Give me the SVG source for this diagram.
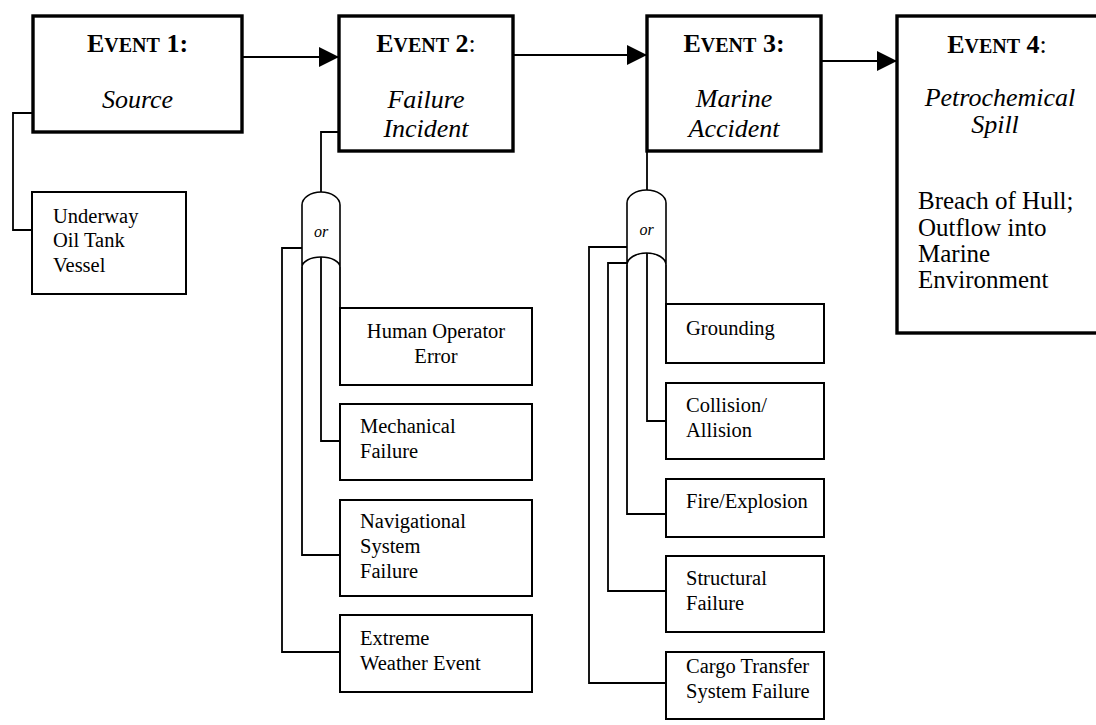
<svg xmlns="http://www.w3.org/2000/svg" width="1096" height="725" viewBox="0 0 1096 725">
<style>
.main{fill:#fff;stroke:#000;stroke-width:3.4}
.child{fill:#fff;stroke:#000;stroke-width:2}
.gate{fill:#fff;stroke:#000;stroke-width:1.6}
.conn{fill:none;stroke:#000;stroke-width:1.8}
text{font-family:"Liberation Serif","Times New Roman",serif;fill:#000}
.hd{font-weight:bold;font-size:26px;text-anchor:middle}
.hd .sc{font-size:20px}
.it{font-style:italic;font-size:26px;text-anchor:middle}
.ct{font-size:20.5px}
.big{font-size:25px}
.or{font-style:italic;font-size:16px;text-anchor:middle}
</style>
<defs>
<marker id="arr" markerUnits="userSpaceOnUse" markerWidth="20" markerHeight="20" refX="20" refY="10" orient="auto">
<path d="M0,0 L20,10 L0,20 Z" fill="#000"/>
</marker>
</defs>
<g id="connectors">
<line class="conn" x1="242" y1="57" x2="339" y2="57" marker-end="url(#arr)"/>
<line class="conn" x1="513" y1="55" x2="647" y2="55" marker-end="url(#arr)"/>
<line class="conn" x1="821" y1="61" x2="897" y2="61" marker-end="url(#arr)"/>
<polyline class="conn" points="33,113 13,113 13,230 32,230"/>
<polyline class="conn" points="339,132 321,132 321,193"/>
<polyline class="conn" points="340,267 340,308"/>
<polyline class="conn" points="321,257 321,441 340,441"/>
<polyline class="conn" points="302,267 302,555 340,555"/>
<polyline class="conn" points="302,248 282,248 282,652 340,652"/>
<polyline class="conn" points="647,151 647,191"/>
<polyline class="conn" points="666,265 666,304"/>
<polyline class="conn" points="647,253 647,421 666,421"/>
<polyline class="conn" points="627,265 627,514 666,514"/>
<polyline class="conn" points="627,263 608,263 608,591 666,591"/>
<polyline class="conn" points="627,247 589,247 589,683 666,683"/>
</g>
<g id="gate1">
<path class="gate" d="M302,267 L302,205 A19,13 0 0 1 340,205 L340,267 A19,10 0 0 0 302,267 Z"/>
<text class="or" x="321" y="237">or</text>
</g>
<g id="gate2">
<path class="gate" d="M627,265 L627,203 A19.5,13 0 0 1 666,203 L666,265 A19.5,12 0 0 0 627,265 Z"/>
<text class="or" x="646.5" y="235">or</text>
</g>
<g id="event1">
<rect class="main" x="33" y="16" width="209" height="116"/>
<text class="hd" x="137.5" y="52">E<tspan class="sc">VENT</tspan> 1:</text>
<text class="it" x="137.5" y="108">Source</text>
</g>
<g id="event2">
<rect class="main" x="339" y="16" width="174" height="135"/>
<text class="hd" x="426" y="52">E<tspan class="sc">VENT</tspan> 2<tspan font-weight="normal">:</tspan></text>
<text class="it" x="426" y="108">Failure</text>
<text class="it" x="426" y="137">Incident</text>
</g>
<g id="event3">
<rect class="main" x="647" y="16" width="174" height="135"/>
<text class="hd" x="734" y="52">E<tspan class="sc">VENT</tspan> 3:</text>
<text class="it" x="734" y="107">Marine</text>
<text class="it" x="734" y="137">Accident</text>
</g>
<g id="event4">
<rect class="main" x="897" y="16" width="203" height="317"/>
<text class="hd" x="997" y="53">E<tspan class="sc">VENT</tspan> 4<tspan font-weight="normal">:</tspan></text>
<text class="it" x="1000" y="106">Petrochemical</text>
<text class="it" x="995" y="133" font-size="16">Spill</text>
<text class="big" x="918" y="209">Breach of Hull;</text>
<text class="big" x="918" y="236">Outflow into</text>
<text class="big" x="918" y="262">Marine</text>
<text class="big" x="918" y="288">Environment</text>
</g>
<g id="source-vessel">
<rect class="child" x="32" y="192" width="154" height="102"/>
<text class="ct" x="53" y="223">Underway</text>
<text class="ct" x="53" y="247">Oil Tank</text>
<text class="ct" x="53" y="272">Vessel</text>
</g>
<g id="human-error">
<rect class="child" x="340" y="308" width="192" height="77"/>
<text class="ct" x="436" y="338" text-anchor="middle">Human Operator</text>
<text class="ct" x="436" y="363" text-anchor="middle">Error</text>
</g>
<g id="mechanical">
<rect class="child" x="340" y="404" width="192" height="76"/>
<text class="ct" x="360" y="433">Mechanical</text>
<text class="ct" x="360" y="458">Failure</text>
</g>
<g id="navigational">
<rect class="child" x="340" y="500" width="192" height="96"/>
<text class="ct" x="360" y="528">Navigational</text>
<text class="ct" x="360" y="553">System</text>
<text class="ct" x="360" y="578">Failure</text>
</g>
<g id="weather">
<rect class="child" x="340" y="615" width="192" height="77"/>
<text class="ct" x="360" y="645">Extreme</text>
<text class="ct" x="360" y="670">Weather Event</text>
</g>
<g id="grounding">
<rect class="child" x="666" y="304" width="158" height="59"/>
<text class="ct" x="686" y="335">Grounding</text>
</g>
<g id="collision">
<rect class="child" x="666" y="383" width="158" height="76"/>
<text class="ct" x="686" y="412">Collision/</text>
<text class="ct" x="686" y="437">Allision</text>
</g>
<g id="fire">
<rect class="child" x="666" y="479" width="158" height="58"/>
<text class="ct" x="686" y="508">Fire/Explosion</text>
</g>
<g id="structural">
<rect class="child" x="666" y="556" width="158" height="76"/>
<text class="ct" x="686" y="585">Structural</text>
<text class="ct" x="686" y="610">Failure</text>
</g>
<g id="cargo">
<rect class="child" x="666" y="652" width="158" height="67"/>
<text class="ct" x="686" y="673">Cargo Transfer</text>
<text class="ct" x="686" y="698">System Failure</text>
</g>
</svg>
